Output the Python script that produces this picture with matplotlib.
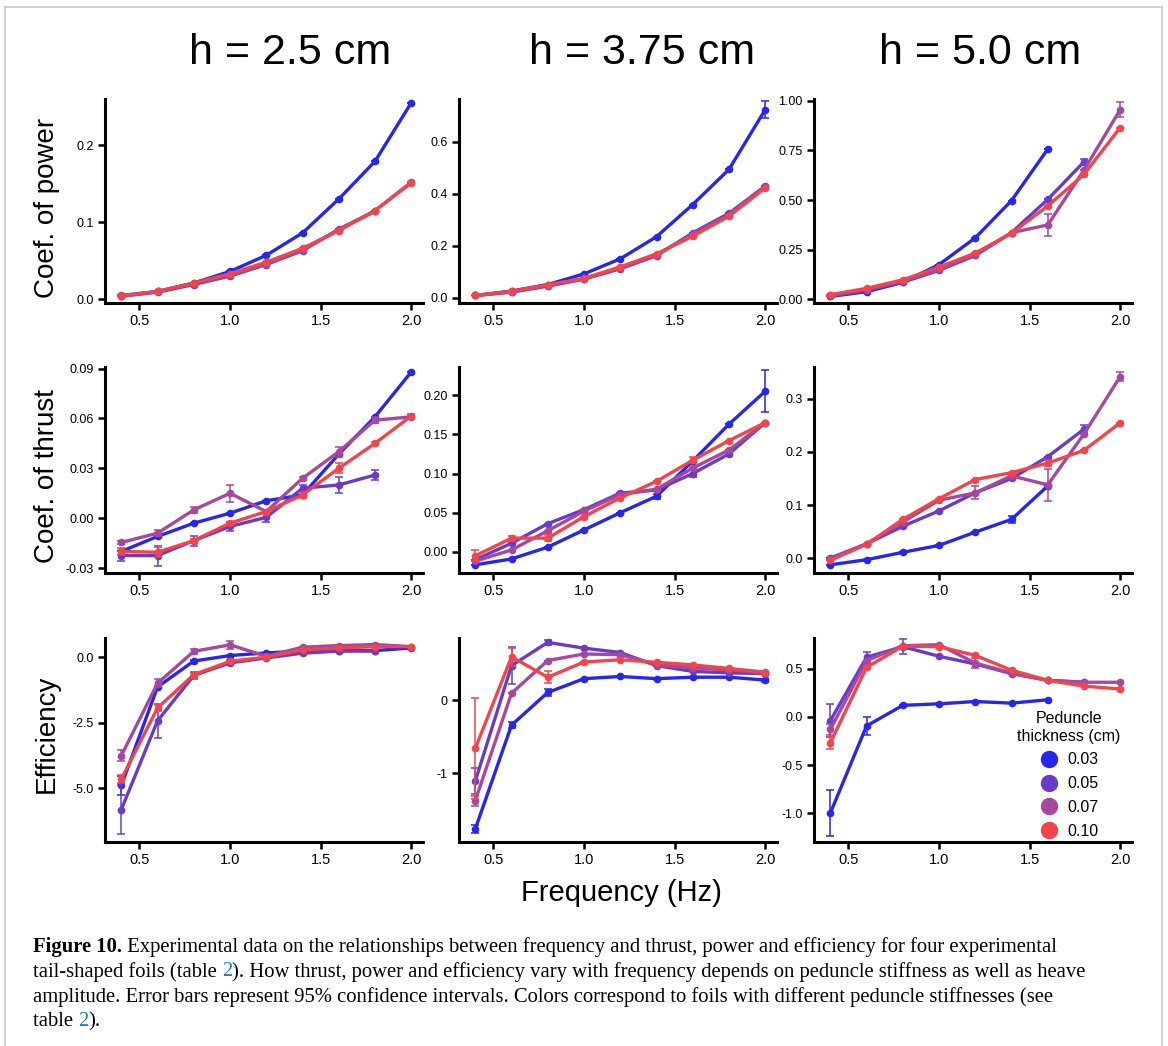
import numpy as np
import matplotlib
matplotlib.use("Agg")
import matplotlib.pyplot as plt
from matplotlib.lines import Line2D

nan = np.nan

# ---------------- data ----------------
freq = [0.4, 0.6, 0.8, 1.0, 1.2, 1.4, 1.6, 1.8, 2.0]
thickness_labels = ["0.03", "0.05", "0.07", "0.10"]
series_colors = ["#2626ec", "#6a3bc8", "#a6489e", "#f3444b"]
amplitude_titles = ["h = 2.5 cm", "h = 3.75 cm", "h = 5.0 cm"]
row_labels = ["Coef. of power", "Coef. of thrust", "Efficiency"]

# order of series in each block: 0.03, 0.05, 0.07, 0.10
power_h25 = [
    [0.004, 0.010, 0.021, 0.036, 0.057, 0.086, 0.130, 0.179, 0.255],
    [0.004, 0.009, 0.019, 0.030, 0.045, 0.063, 0.091, 0.114, nan],
    [0.005, 0.010, 0.020, 0.031, 0.046, 0.064, 0.090, 0.115, 0.152],
    [0.004, 0.010, 0.021, 0.033, 0.048, 0.066, 0.089, 0.115, 0.151],
]
power_h25_err = [
    [0, 0, 0, 0, 0, 0, 0, 0, 0],
    [0, 0, 0, 0, 0, 0, 0, 0, nan],
    [0, 0, 0, 0, 0, 0, 0, 0, 0],
    [0, 0, 0, 0, 0, 0, 0, 0, 0],
]
power_h375 = [
    [0.009, 0.026, 0.051, 0.092, 0.150, 0.235, 0.359, 0.494, 0.724],
    [0.009, 0.022, 0.045, 0.072, 0.112, 0.162, 0.250, 0.325, 0.430],
    [0.009, 0.023, 0.047, 0.073, 0.114, 0.165, 0.245, 0.320, 0.428],
    [0.009, 0.025, 0.050, 0.075, 0.119, 0.169, 0.237, 0.314, 0.423],
]
power_h375_err = [
    [0, 0, 0, 0, 0, 0, 0, 0, 0.032],
    [0, 0, 0, 0, 0, 0, 0, 0, 0],
    [0, 0, 0, 0, 0, 0, 0, 0, 0],
    [0, 0, 0, 0, 0, 0, 0, 0, 0],
]
power_h50 = [
    [0.013, 0.037, 0.084, 0.174, 0.309, 0.497, 0.757, nan, nan],
    [0.015, 0.045, 0.085, 0.145, 0.220, 0.335, 0.503, 0.693, nan],
    [0.018, 0.048, 0.090, 0.150, 0.225, 0.335, 0.374, 0.651, 0.956],
    [0.022, 0.054, 0.097, 0.161, 0.232, 0.332, 0.470, 0.629, 0.866],
]
power_h50_err = [
    [0, 0, 0, 0, 0, 0, 0, nan, nan],
    [0, 0, 0, 0, 0, 0, 0, 0.015, nan],
    [0, 0, 0, 0, 0, 0, 0.057, 0, 0.038],
    [0, 0, 0, 0, 0, 0, 0, 0, 0],
]
thrust_h25 = [
    [-0.020, -0.011, -0.003, 0.003, 0.0105, 0.014, 0.0385, 0.061, 0.088],
    [-0.0225, -0.0225, -0.0135, -0.005, 0.0005, 0.018, 0.020, 0.026, nan],
    [-0.0146, -0.009, 0.005, 0.015, 0.004, 0.024, 0.040, 0.059, 0.061],
    [-0.020, -0.0205, -0.0135, -0.003, 0.004, 0.014, 0.030, 0.045, 0.0615],
]
thrust_h25_err = [
    [0, 0, 0, 0, 0, 0, 0, 0, 0],
    [0.003, 0.006, 0.003, 0.003, 0.003, 0.002, 0.005, 0.003, nan],
    [0.001, 0.002, 0.002, 0.005, 0.001, 0.001, 0.003, 0.002, 0.001],
    [0.002, 0.003, 0.001, 0.001, 0.001, 0.002, 0.003, 0.001, 0.001],
]
thrust_h375 = [
    [-0.0166, -0.009, 0.006, 0.028, 0.050, 0.071, 0.116, 0.163, 0.205],
    [-0.010, 0.011, 0.036, 0.054, 0.075, 0.079, 0.100, 0.125, 0.165],
    [-0.012, 0.0025, 0.027, 0.052, 0.073, 0.080, 0.107, 0.130, 0.165],
    [-0.005, 0.0175, 0.0175, 0.045, 0.069, 0.090, 0.117, 0.142, 0.165],
]
thrust_h375_err = [
    [0, 0, 0, 0, 0, 0.003, 0, 0, 0.027],
    [0, 0, 0, 0, 0, 0, 0.004, 0.002, 0],
    [0, 0, 0, 0, 0, 0, 0, 0, 0],
    [0.007, 0.003, 0.004, 0, 0, 0, 0.004, 0, 0],
]
thrust_h50 = [
    [-0.0126, -0.003, 0.011, 0.024, 0.049, 0.073, 0.136, nan, nan],
    [0.0, 0.027, 0.060, 0.089, 0.123, 0.150, 0.191, 0.243, nan],
    [-0.0025, 0.027, 0.068, 0.109, 0.123, 0.155, 0.138, 0.234, 0.342],
    [-0.004, 0.026, 0.073, 0.112, 0.148, 0.161, 0.179, 0.203, 0.255],
]
thrust_h50_err = [
    [0, 0, 0, 0, 0, 0.007, 0, nan, nan],
    [0, 0, 0, 0, 0, 0, 0, 0.008, nan],
    [0, 0, 0, 0, 0.012, 0, 0.030, 0, 0.009],
    [0, 0, 0, 0, 0, 0, 0.005, 0, 0],
]
eff_h25 = [
    [-4.90, -1.14, -0.15, 0.06, 0.16, 0.23, 0.25, 0.25, 0.35],
    [-5.82, -2.43, -0.70, -0.22, -0.03, 0.15, 0.23, 0.23, nan],
    [-3.76, -1.00, 0.22, 0.47, 0.03, 0.38, 0.44, 0.48, 0.40],
    [-4.66, -1.94, -0.67, -0.16, 0.00, 0.28, 0.35, 0.40, 0.40],
]
eff_h25_err = [
    [0.35, 0.05, 0.05, 0, 0, 0, 0, 0, 0],
    [0.95, 0.65, 0.15, 0.10, 0.05, 0, 0, 0, nan],
    [0.20, 0.15, 0.10, 0.15, 0, 0, 0, 0, 0],
    [0.15, 0.10, 0.05, 0, 0, 0, 0, 0, 0],
]
eff_h375 = [
    [-1.77, -0.34, 0.11, 0.30, 0.33, 0.30, 0.32, 0.32, 0.28],
    [-1.11, 0.48, 0.80, 0.72, 0.66, 0.48, 0.40, 0.38, 0.37],
    [-1.38, 0.10, 0.55, 0.64, 0.63, 0.49, 0.45, 0.42, 0.38],
    [-0.66, 0.60, 0.32, 0.53, 0.56, 0.525, 0.49, 0.44, 0.39],
]
eff_h375_err = [
    [0.05, 0.04, 0.05, 0, 0, 0, 0, 0, 0.02],
    [0.18, 0.25, 0.03, 0, 0, 0, 0, 0, 0],
    [0.07, 0, 0, 0, 0, 0, 0, 0, 0],
    [0.70, 0.12, 0.08, 0, 0, 0, 0, 0, 0],
]
eff_h50 = [
    [-1.00, -0.094, 0.12, 0.136, 0.16, 0.143, 0.178, nan, nan],
    [-0.04, 0.62, 0.73, 0.63, 0.55, 0.45, 0.38, 0.36, nan],
    [-0.13, 0.585, 0.74, 0.75, 0.56, 0.455, 0.38, 0.36, 0.36],
    [-0.27, 0.515, 0.735, 0.73, 0.64, 0.485, 0.38, 0.32, 0.29],
]
eff_h50_err = [
    [0.24, 0.09, 0, 0, 0, 0, 0, nan, nan],
    [0.17, 0.05, 0.08, 0, 0, 0, 0, 0, nan],
    [0.06, 0, 0, 0, 0.05, 0, 0, 0, 0],
    [0.06, 0, 0, 0, 0, 0, 0, 0, 0],
]

panel_values = [[power_h25, power_h375, power_h50],
                [thrust_h25, thrust_h375, thrust_h50],
                [eff_h25, eff_h375, eff_h50]]
panel_errors = [[power_h25_err, power_h375_err, power_h50_err],
                [thrust_h25_err, thrust_h375_err, thrust_h50_err],
                [eff_h25_err, eff_h375_err, eff_h50_err]]

y_limits = [[(-0.005, 0.26), (-0.02, 0.765), (-0.02, 1.01)],
            [(-0.033, 0.091), (-0.027, 0.236), (-0.028, 0.36)],
            [(-7.06, 0.73), (-1.95, 0.86), (-1.30, 0.82)]]
y_ticks = [[[0.0, 0.1, 0.2], [0.0, 0.2, 0.4, 0.6], [0.0, 0.25, 0.5, 0.75, 1.0]],
           [[-0.03, 0.0, 0.03, 0.06, 0.09], [0.0, 0.05, 0.10, 0.15, 0.20], [0.0, 0.1, 0.2, 0.3]],
           [[-5.0, -2.5, 0.0], [-1, 0], [-1.0, -0.5, 0.0, 0.5]]]
y_fmt = [["%.1f", "%.1f", "%.2f"],
         ["%.2f", "%.2f", "%.1f"],
         ["%.1f", "%.0f", "%.1f"]]
x_ticks = [0.5, 1.0, 1.5, 2.0]

# ---------------- layout ----------------
W, H = 1168, 1046
fig = plt.figure(figsize=(W / 100, H / 100), dpi=100)
fig.patch.set_facecolor("white")
plt.rcParams["font.family"] = ["Liberation Sans", "DejaVu Sans"]

col_left = [105, 459, 814]
col_width = 318
row_top = [99, 367, 638]
row_bottom = [303, 573, 842]

axes = [[None] * 3 for _ in range(3)]
for r in range(3):
    for c in range(3):
        ax = fig.add_axes([col_left[c] / W, 1 - row_bottom[r] / H,
                           col_width / W, (row_bottom[r] - row_top[r]) / H])
        axes[r][c] = ax
        vals = panel_values[r][c]
        errs = panel_errors[r][c]
        for k in range(4):
            ax.errorbar(freq, vals[k], yerr=errs[k], color=series_colors[k],
                        lw=2.4, marker="o", ms=4.5, elinewidth=1.1,
                        capsize=2.6, capthick=1.1, zorder=3 + k)
        ax.set_xlim(0.31, 2.065)
        ax.set_ylim(*y_limits[r][c])
        ax.set_xticks(x_ticks)
        ax.set_xticklabels(["%.1f" % v for v in x_ticks], fontsize=10.5)
        ax.set_yticks(y_ticks[r][c])
        ax.set_yticklabels([y_fmt[r][c] % v for v in y_ticks[r][c]], fontsize=9)
        for s in ["top", "right"]:
            ax.spines[s].set_visible(False)
        for s in ["left", "bottom"]:
            ax.spines[s].set_linewidth(2.2)
        ax.tick_params(axis="both", direction="out", length=5, width=1.8,
                       pad=3, colors="black")
        ax.set_facecolor("none")

# column titles
title_center = [290, 642, 980]
for c in range(3):
    fig.text(title_center[c] / W, 1 - 64 / H, amplitude_titles[c], fontsize=31,
             ha="center", va="baseline")

# row labels
row_label_y = [208, 476, 734]
for r in range(3):
    fig.text(47 / W, 1 - row_label_y[r] / H, row_labels[r], fontsize=20,
             rotation=90, ha="center", va="center")

fig.text(621 / W, 1 - 893 / H, "Frequency (Hz)", fontsize=21,
         ha="center", va="center")

# legend
handles = [Line2D([], [], marker="o", ls="none", ms=11.5, color=series_colors[k])
           for k in range(4)]
leg = axes[2][2].legend(handles, thickness_labels, title="Peduncle\nthickness (cm)",
                        loc="center", bbox_to_anchor=(1069 / W, 1 - 775 / H),
                        bbox_transform=fig.transFigure, frameon=False,
                        fontsize=11.5, title_fontsize=11.5, handletextpad=0.5,
                        labelspacing=0.55, borderpad=0, handlelength=1.2)
leg.get_title().set_multialignment("center")

# frame around figure
frame_kw = dict(transform=fig.transFigure, color="#c9c9c9", lw=1.2)
fig.add_artist(Line2D([5 / W, 5 / W], [1 - 7 / H, 0], **frame_kw))
fig.add_artist(Line2D([5 / W, 1162 / W], [1 - 7 / H, 1 - 7 / H], **frame_kw))
fig.add_artist(Line2D([1162 / W, 1162 / W], [1 - 7 / H, 0], **frame_kw))

# caption
renderer = fig.canvas.get_renderer()
cap_family = ["Liberation Serif", "DejaVu Serif"]


def text_width(s, size, weight="normal"):
    t = fig.text(0, 0, "x" + s + "x", fontsize=size, family=cap_family, fontweight=weight)
    w1 = t.get_window_extent(renderer).width
    t.remove()
    t = fig.text(0, 0, "xx", fontsize=size, family=cap_family, fontweight=weight)
    w2 = t.get_window_extent(renderer).width
    t.remove()
    return w1 - w2


link_blue = "#1a7fc1"
caption_lines = [
    [("Figure 10.", "black", "bold"),
     (" Experimental data on the relationships between frequency and thrust, power and efficiency for four experimental", "black", "normal")],
    [("tail-shaped foils (table ", "black", "normal"), ("2", link_blue, "normal"),
     ("). How thrust, power and efficiency vary with frequency depends on peduncle stiffness as well as heave", "black", "normal")],
    [("amplitude. Error bars represent 95% confidence intervals. Colors correspond to foils with different peduncle stiffnesses (see", "black", "normal")],
    [("table ", "black", "normal"), ("2", link_blue, "normal"), (").", "black", "normal")],
]
ref_size = 10.0
ref_w = sum(text_width(s, ref_size, wt) for s, _, wt in caption_lines[1])
cap_size = ref_size * 1059.0 / ref_w
cap_y = [947, 972, 997, 1022]
for li, line in enumerate(caption_lines):
    x = 33.0
    for s, col, wt in line:
        fig.text(x / W, 1 - cap_y[li] / H, s, fontsize=cap_size, family=cap_family,
                 color=col, fontweight=wt, ha="left", va="center")
        x += text_width(s, cap_size, wt)

fig.savefig("out.png", dpi=100, facecolor="white")
